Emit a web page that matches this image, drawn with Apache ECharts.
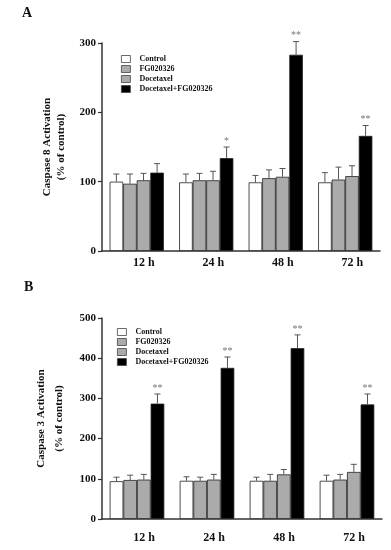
<!DOCTYPE html>
<html>
<head>
<meta charset="utf-8">
<script src="https://cdn.jsdelivr.net/npm/echarts@6/dist/echarts.min.js"></script>
<style>html,body{margin:0;padding:0;background:#fff}#c{width:391px;height:550px}</style>
</head>
<body>
<div id="c"></div>
<script>
const categories = ['12 h', '24 h', '48 h', '72 h'];
const seriesNames = ['Control', 'FG020326', 'Docetaxel', 'Docetaxel+FG020326'];
const yTicksA = [0, 100, 200, 300];
const yTicksB = [0, 100, 200, 300, 400, 500];

// Panel A: Caspase 8
const casp8Control = [100, 99, 99, 99];
const casp8FG = [97, 102, 105, 103];
const casp8Doc = [102, 102, 107, 108];
const casp8Combo = [113, 134, 283, 166];
const casp8ControlErr = [11, 12, 10, 14];
const casp8FGErr = [14, 10, 12, 18];
const casp8DocErr = [10, 13, 12, 15];
const casp8ComboErr = [13, 16, 19, 15];
const casp8Stars = ['', '*', '**', '**'];

// Panel B: Caspase 3
const casp3Control = [94, 95, 95, 95];
const casp3FG = [97, 95, 95, 98];
const casp3Doc = [98, 98, 111, 117];
const casp3Combo = [287, 376, 425, 285];
const casp3ControlErr = [10, 10, 9, 14];
const casp3FGErr = [12, 9, 16, 13];
const casp3DocErr = [13, 13, 12, 19];
const casp3ComboErr = [24, 27, 33, 26];
const casp3Stars = ['**', '**', '**', '**'];

const FONT = '"Liberation Serif", "DejaVu Serif", serif';
const fills = ['#ffffff', '#ababab', '#ababab', '#000000'];
const CAT_GAP = 0.22;

function barSeries(gi, arrs) {
  return arrs.map((d, i) => ({
    type: 'bar', name: seriesNames[i], xAxisIndex: gi, yAxisIndex: gi,
    data: d, barGap: '0%', barCategoryGap: (CAT_GAP * 100) + '%',
    itemStyle: { color: fills[i], borderColor: '#222', borderWidth: 0.8 },
    emphasis: { disabled: true }, animation: false
  }));
}

function errSeries(gi, vals, errs, stars) {
  const data = [];
  vals.forEach((arr, s) => arr.forEach((v, c) => data.push([c, v, errs[s][c], s])));
  return {
    type: 'custom', xAxisIndex: gi, yAxisIndex: gi, z: 5, animation: false, silent: true,
    data: data,
    renderItem: function (params, api) {
      const c = api.value(0), v = api.value(1), e = api.value(2), s = api.value(3);
      const catW = api.size([1, 0])[0];
      const groupW = catW * (1 - CAT_GAP);
      const bw = groupW / 4;
      const base = api.coord([c, v]);
      const x = base[0] - groupW / 2 + (s + 0.5) * bw;
      const yTop = api.coord([c, v + e])[1];
      const ls = { stroke: '#555', lineWidth: 1 };
      const children = [
        { type: 'line', shape: { x1: x, y1: base[1], x2: x, y2: yTop }, style: ls },
        { type: 'line', shape: { x1: x - 3, y1: yTop, x2: x + 3, y2: yTop }, style: ls }
      ];
      if (s === 3 && stars[c]) {
        children.push({ type: 'text', x: x, y: yTop - 1,
          style: { text: stars[c], fill: '#777', font: '10px ' + FONT, align: 'center', verticalAlign: 'bottom' } });
      }
      return { type: 'group', children: children };
    }
  };
}

function xAx(gi, margin) {
  return {
    type: 'category', gridIndex: gi, data: categories,
    axisLine: { lineStyle: { color: '#333', width: 1.5 } },
    axisTick: { show: false },
    axisLabel: { margin: margin, fontFamily: FONT, fontWeight: 'bold', fontSize: 12, color: '#111', padding: [0, 0, 0, 14] }
  };
}
function yAx(gi, ticks, name, gap, lh) {
  return {
    type: 'value', gridIndex: gi, min: ticks[0], max: ticks[ticks.length - 1], interval: ticks[1] - ticks[0],
    splitLine: { show: false },
    axisLine: { show: true, lineStyle: { color: '#333', width: 1.5 } },
    axisTick: { show: true, length: 4, lineStyle: { color: '#333', width: 1.2 } },
    axisLabel: { margin: 6, fontFamily: FONT, fontWeight: 'bold', fontSize: 11, color: '#111' },
    name: name, nameLocation: 'middle', nameRotate: 90, nameGap: gap,
    nameTextStyle: { fontFamily: FONT, fontWeight: 'bold', fontSize: 11, color: '#111', lineHeight: lh }
  };
}
function legend(left, top) {
  return {
    left: left, top: top, orient: 'vertical', data: seriesNames, icon: 'rect',
    itemWidth: 9, itemHeight: 7, itemGap: 2, selectedMode: false,
    itemStyle: { borderColor: '#444', borderWidth: 0.8 },
    textStyle: { fontFamily: FONT, fontWeight: 'bold', fontSize: 8, color: '#111', padding: [0, 0, 0, 4] }
  };
}

const chart = echarts.init(document.getElementById('c'), null, { renderer: 'canvas' });
chart.setOption({
  animation: false,
  graphic: [
    { type: 'text', left: 22, top: 6, style: { text: 'A', font: 'bold 14px ' + FONT, fill: '#111' } },
    { type: 'text', left: 24, top: 280, style: { text: 'B', font: 'bold 14px ' + FONT, fill: '#111' } }
  ],
  legend: [legend(116, 50), legend(112, 323)],
  grid: [
    { left: 102, top: 43, width: 278, height: 208 },
    { left: 102, top: 318, width: 280, height: 201 }
  ],
  xAxis: [xAx(0, 6), xAx(1, 13)],
  yAxis: [
    yAx(0, yTicksA, 'Caspase 8 Activation\n(% of control)', 30, 14),
    yAx(1, yTicksB, 'Caspase 3 Activation\n(% of control)', 29, 18)
  ],
  series: [
    ...barSeries(0, [casp8Control, casp8FG, casp8Doc, casp8Combo]),
    errSeries(0, [casp8Control, casp8FG, casp8Doc, casp8Combo], [casp8ControlErr, casp8FGErr, casp8DocErr, casp8ComboErr], casp8Stars),
    ...barSeries(1, [casp3Control, casp3FG, casp3Doc, casp3Combo]),
    errSeries(1, [casp3Control, casp3FG, casp3Doc, casp3Combo], [casp3ControlErr, casp3FGErr, casp3DocErr, casp3ComboErr], casp3Stars)
  ]
});
</script>
</body>
</html>
